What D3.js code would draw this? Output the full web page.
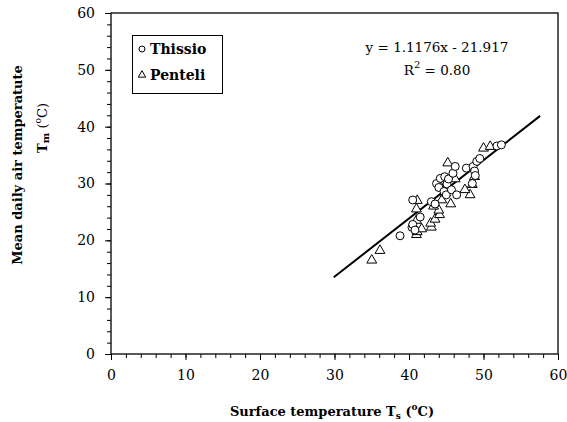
<!DOCTYPE html>
<head>
<meta charset="utf-8">
<style>
body { margin: 0; background: #fff; }
svg text { font-family: "DejaVu Serif", "Liberation Serif", serif; fill: #000; }
.axis text { font-size: 14px; }
.axis path, .axis line { stroke: #000; }
.lab { font-weight: bold; font-size: 13px; }
</style>
</head>
<body>
<svg width="567" height="422"></svg>
<script src="https://cdn.jsdelivr.net/npm/d3@7"></script>
<script>
// Thissio (circles)
var thissioX = [38.8, 40.5, 40.4, 40.5, 40.8, 41.5, 43.0, 43.5, 43.7, 44.0, 44.2, 44.7, 44.8, 45.0, 45.1, 45.3, 45.7, 45.9, 46.2, 46.4, 47.7, 48.5, 48.6, 48.8, 48.9, 49.1, 49.5, 51.8, 52.4];
var thissioY = [20.8, 27.1, 22.3, 22.8, 21.8, 24.1, 26.8, 26.4, 30.0, 29.3, 30.9, 28.6, 31.2, 28.0, 29.9, 30.8, 28.9, 31.8, 33.0, 28.0, 32.7, 30.0, 33.0, 32.2, 31.4, 33.9, 34.4, 36.6, 36.8];
// Penteli (triangles)
var penteliX = [35.0, 36.1, 41.0, 41.1, 41.7, 41.0, 43.0, 42.9, 43.5, 44.1, 44.0, 45.6, 41.0, 41.1, 43.3, 44.4, 45.2, 48.2, 47.5, 48.5, 48.8, 50.0, 50.9, 46.2, 44.3, 44.9];
var penteliY = [16.5, 18.2, 21.0, 21.5, 22.0, 23.5, 22.3, 23.0, 23.7, 24.5, 25.3, 26.4, 25.5, 27.0, 26.0, 27.1, 33.6, 28.0, 28.9, 29.8, 31.2, 36.2, 36.5, 30.8, 29.3, 28.3];
// fitted line end points as drawn
var trendX = [29.9, 57.6];
var trendY = [13.5, 41.9];
var xTicks = [0, 10, 20, 30, 40, 50, 60];
var yTicks = [0, 10, 20, 30, 40, 50, 60];
var seriesNames = ["Thissio", "Penteli"];

var svg = d3.select("svg");
var pLeft = 111, pRight = 558, pTop = 13, pBottom = 354;

var x = d3.scaleLinear().domain([0, 60]).range([pLeft, pRight]);
var y = d3.scaleLinear().domain([0, 60]).range([pBottom, pTop]);

// frame
svg.append("rect")
    .attr("x", pLeft).attr("y", pTop)
    .attr("width", pRight - pLeft).attr("height", pBottom - pTop)
    .attr("fill", "none").attr("stroke", "#000").attr("stroke-width", 1.3);

// minor ticks
svg.append("g")
    .attr("class", "axis")
    .attr("transform", "translate(0," + pBottom + ")")
    .call(d3.axisBottom(x).ticks(30).tickSize(4).tickFormat(""))
    .call(g => g.select(".domain").remove());
svg.append("g")
    .attr("class", "axis")
    .attr("transform", "translate(" + pLeft + ",0)")
    .call(d3.axisLeft(y).ticks(30).tickSize(4).tickFormat(""))
    .call(g => g.select(".domain").remove());

// major ticks
svg.append("g")
    .attr("class", "axis")
    .attr("transform", "translate(0," + pBottom + ")")
    .call(d3.axisBottom(x).tickValues(xTicks).tickSize(6).tickPadding(10))
    .call(g => g.select(".domain").remove());
svg.append("g")
    .attr("class", "axis")
    .attr("transform", "translate(" + pLeft + ",0)")
    .call(d3.axisLeft(y).tickValues(yTicks).tickSize(6).tickPadding(10))
    .call(g => g.select(".domain").remove());

// trend line
svg.append("path")
    .datum(d3.zip(trendX, trendY))
    .attr("fill", "none").attr("stroke", "#000").attr("stroke-width", 2)
    .attr("d", d3.line().x(d => x(d[0])).y(d => y(d[1])));

var tri = d3.symbol().type(d3.symbolTriangle).size(42);

svg.append("g").selectAll("path")
    .data(d3.zip(penteliX, penteliY))
    .join("path")
    .attr("transform", d => "translate(" + x(d[0]) + "," + y(d[1]) + ")")
    .attr("d", tri)
    .attr("fill", "#fff").attr("stroke", "#000").attr("stroke-width", 1);

svg.append("g").selectAll("circle")
    .data(d3.zip(thissioX, thissioY))
    .join("circle")
    .attr("cx", d => x(d[0])).attr("cy", d => y(d[1])).attr("r", 4)
    .attr("fill", "#fff").attr("stroke", "#000").attr("stroke-width", 1);

// legend
var lg = svg.append("g");
lg.append("rect").attr("x", 132.5).attr("y", 35.5).attr("width", 90).attr("height", 58)
    .attr("fill", "#fff").attr("stroke", "#000");
lg.append("circle").attr("cx", 142).attr("cy", 49).attr("r", 3)
    .attr("fill", "#fff").attr("stroke", "#000");
lg.append("path").attr("transform", "translate(142,75)").attr("d", d3.symbol().type(d3.symbolTriangle).size(24))
    .attr("fill", "#fff").attr("stroke", "#000");
lg.selectAll("text").data(seriesNames).join("text")
    .attr("class", "lab").style("font-size", "14px")
    .attr("x", 150).attr("y", (d, i) => 54 + i * 26)
    .text(d => d);

// equation
svg.append("text").attr("x", 437).attr("y", 52).attr("text-anchor", "middle")
    .style("font-size", "13.5px").text("y = 1.1176x - 21.917");
var r2 = svg.append("text").attr("x", 437).attr("y", 75).attr("text-anchor", "middle")
    .style("font-size", "13.5px");
r2.append("tspan").text("R");
r2.append("tspan").attr("dy", -7).style("font-size", "10px").text("2");
r2.append("tspan").attr("dy", 7).text(" = 0.80");

// axis titles
var xt = svg.append("text").attr("class", "lab").attr("x", 332).attr("y", 416).attr("text-anchor", "middle");
xt.append("tspan").text("Surface temperature T");
xt.append("tspan").attr("dy", 3).style("font-size", "9px").text("s");
xt.append("tspan").attr("dy", -3).text(" (");
xt.append("tspan").attr("dy", -6).style("font-size", "9px").text("o");
xt.append("tspan").attr("dy", 6).text("C)");

svg.append("text").attr("class", "lab")
    .attr("transform", "translate(22,165) rotate(-90)")
    .attr("text-anchor", "middle")
    .text("Mean daily air temperatute");

var yt = svg.append("text").attr("class", "lab")
    .attr("transform", "translate(47,128) rotate(-90)")
    .attr("text-anchor", "middle");
yt.append("tspan").text("T");
yt.append("tspan").attr("dy", 2).style("font-size", "10px").text("m");
yt.append("tspan").attr("dy", -2).style("font-weight", "normal").text(" (");
yt.append("tspan").attr("dy", -6).style("font-size", "9px").style("font-weight", "normal").text("o");
yt.append("tspan").attr("dy", 6).style("font-weight", "normal").text("C)");
</script>
</body>
